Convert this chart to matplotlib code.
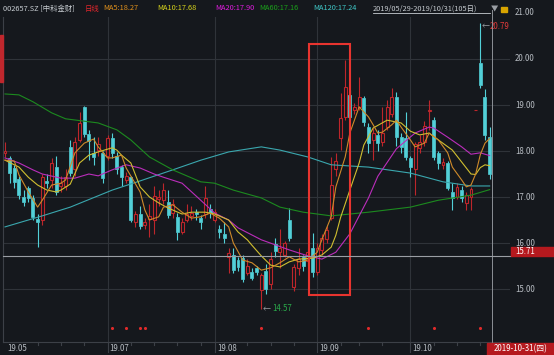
import numpy as np
import matplotlib.pyplot as plt
from matplotlib.lines import Line2D
from matplotlib.patches import Rectangle
from matplotlib.transforms import blended_transform_factory

# 002657.SZ daily bars, 2019/05/29 - 2019/10/31 (105 sessions)
opens = [17.95, 17.85, 17.63, 17.40, 17.00, 17.20, 16.98, 16.52, 16.50, 17.35,
         17.37, 17.65, 17.25, 17.23, 18.08, 17.60, 18.25, 18.95, 18.38, 17.95,
         18.02, 17.96, 17.90, 18.28, 17.90, 17.65, 17.38, 17.43, 16.45, 16.63,
         16.40, 16.52, 16.50, 16.95, 16.93, 16.90, 16.65, 16.57, 16.25, 16.50,
         16.58, 16.67, 16.55, 16.62, 16.75, 16.50, 16.30, 16.20, 15.70, 15.75,
         15.62, 15.68, 15.35, 15.38, 15.45, 14.98, 15.40, 15.10, 15.97, 15.80,
         15.75, 16.50, 15.04, 15.45, 15.70, 15.60, 15.90, 15.38, 15.85, 16.08,
         16.55, 17.60, 18.28, 18.74, 19.22, 18.90, 18.95, 19.15, 18.52, 18.24,
         18.35, 18.20, 18.52, 18.80, 19.17, 18.30, 18.28, 17.85, 17.60, 18.07,
         18.20, 18.87, 18.67, 17.96, 17.70, 17.74, 17.10, 17.00, 17.15, 16.87,
         17.00, 18.89, 19.91, 19.17, 18.30]
highs = [18.20, 17.90, 17.70, 17.45, 17.15, 17.25, 17.05, 16.62, 17.50, 17.50,
         17.85, 17.90, 17.45, 17.60, 18.25, 18.30, 18.85, 18.97, 18.45, 18.30,
         18.30, 18.00, 18.35, 18.40, 17.98, 17.70, 17.55, 17.45, 16.70, 16.80,
         16.55, 16.85, 17.25, 17.15, 17.30, 17.15, 16.95, 16.65, 16.55, 16.85,
         16.80, 16.75, 16.60, 17.25, 16.85, 16.75, 16.40, 16.45, 15.90, 15.90,
         15.70, 15.75, 15.65, 15.45, 15.50, 15.35, 15.55, 15.80, 16.10, 16.30,
         16.05, 16.76, 15.55, 15.90, 15.75, 15.90, 16.22, 16.00, 16.20, 16.38,
         17.87, 17.95, 19.26, 19.98, 19.33, 19.05, 19.61, 19.20, 18.60, 18.50,
         18.45, 18.95, 19.10, 19.37, 19.28, 18.40, 18.85, 17.90, 18.20, 18.35,
         18.65, 19.10, 18.75, 18.00, 17.85, 17.78, 17.30, 17.30, 17.25, 17.10,
         17.22, 18.89, 20.79, 19.35, 18.52]
lows = [17.88, 17.30, 17.20, 16.95, 16.80, 16.90, 16.50, 15.92, 16.40, 17.20,
        17.20, 17.05, 17.10, 17.15, 17.45, 17.45, 18.20, 18.30, 17.80, 17.70,
        17.90, 17.30, 17.80, 17.85, 17.50, 17.25, 17.30, 16.45, 16.35, 16.30,
        16.30, 16.12, 16.20, 16.80, 16.85, 16.55, 16.55, 16.07, 16.20, 16.45,
        16.50, 16.50, 16.30, 16.55, 16.55, 16.45, 16.10, 16.00, 15.35, 15.35,
        15.40, 15.15, 15.30, 15.20, 15.30, 14.57, 14.90, 15.00, 15.70, 15.45,
        15.70, 16.05, 14.95, 15.30, 15.40, 15.50, 15.27, 15.30, 15.75, 16.00,
        16.50, 17.45, 18.02, 18.67, 18.67, 18.80, 18.90, 18.55, 17.96, 17.80,
        18.00, 18.10, 18.45, 18.75, 18.10, 17.95, 17.80, 17.43, 17.05, 17.95,
        18.10, 18.45, 17.80, 17.60, 17.60, 17.15, 16.72, 16.95, 16.90, 16.72,
        16.72, 18.89, 19.38, 18.25, 17.40]
closes = [18.00, 17.52, 17.33, 17.05, 16.90, 16.98, 16.57, 16.45, 17.43, 17.30,
          17.74, 17.10, 17.30, 17.43, 17.52, 18.20, 18.60, 18.37, 18.22, 17.87,
          18.15, 17.41, 18.28, 17.95, 17.60, 17.43, 17.46, 16.50, 16.63, 16.37,
          16.46, 16.58, 17.02, 17.00, 17.15, 16.60, 16.85, 16.23, 16.45, 16.62,
          16.65, 16.62, 16.45, 16.97, 16.65, 16.68, 16.23, 16.10, 15.78, 15.41,
          15.48, 15.22, 15.50, 15.25, 15.38, 15.30, 15.00, 15.65, 15.82, 15.90,
          16.00, 16.11, 15.47, 15.65, 15.50, 15.80, 15.37, 15.90, 16.10, 16.28,
          17.26, 17.78, 18.72, 19.39, 18.74, 18.95, 19.17, 18.63, 18.17, 18.39,
          18.17, 18.40, 18.96, 19.17, 18.30, 18.09, 17.87, 17.65, 18.15, 18.20,
          18.55, 18.90, 17.87, 17.74, 17.76, 17.20, 16.98, 17.22, 16.98, 17.04,
          17.17, 18.89, 19.43, 18.35, 17.51]

# moving averages (session index, price)
ma5_idx = [0, 2, 3, 5, 7, 8, 10, 12, 13, 15, 17, 19, 20, 22, 23, 25, 26, 29, 30, 31,
           33, 34, 36, 38, 40, 42, 44, 46, 48, 49, 51, 53, 55, 57, 59, 61, 63, 65, 67, 68,
           70, 71, 73, 74, 76, 78, 79, 80, 81, 83, 84, 85, 87, 88, 90, 91, 93, 95, 96, 98,
           99, 100, 101, 102, 103, 104]
ma5_val = [17.80, 17.78, 17.48, 17.11, 16.78, 16.93, 17.26, 17.30, 17.37, 17.96,
           18.17, 18.26, 18.09, 17.85, 17.85, 17.91, 17.63, 17.11, 16.72, 16.50,
           16.57, 16.78, 16.83, 16.67, 16.54, 16.57, 16.65, 16.54, 16.35, 16.00,
           15.63, 15.57, 15.41, 15.46, 15.57, 15.70, 15.59, 15.63, 15.80, 16.07,
           16.57, 17.22, 17.87, 18.39, 18.96, 18.74, 18.57, 18.39, 18.41, 18.57,
           18.67, 18.52, 18.24, 18.09, 18.17, 18.39, 18.24, 17.96, 17.65, 17.37,
           17.22, 17.26, 17.50, 17.92, 18.17, 18.27]
ma10_idx = [0, 3, 5, 7, 9, 11, 12, 14, 16, 18, 20, 23, 24, 25, 27, 29, 31, 33, 35, 38,
            40, 43, 45, 48, 50, 52, 53, 55, 57, 59, 61, 63, 66, 68, 70, 71, 72, 74, 76, 77,
            79, 82, 85, 87, 89, 91, 93, 96, 98, 100, 101, 102, 103, 104]
ma10_val = [17.80, 17.65, 17.43, 17.26, 17.15, 17.11, 17.15, 17.28, 17.74, 17.91,
            17.98, 18.07, 18.02, 17.91, 17.74, 17.22, 17.00, 16.87, 16.76, 16.63,
            16.67, 16.67, 16.63, 16.50, 16.24, 16.07, 15.95, 15.72, 15.52, 15.48,
            15.59, 15.65, 15.67, 15.74, 15.91, 16.17, 16.55, 17.15, 17.74, 18.13,
            18.50, 18.67, 18.61, 18.43, 18.35, 18.39, 18.24, 18.02, 17.76, 17.50,
            17.49, 17.64, 17.70, 17.68]
ma20_idx = [0, 3, 6, 8, 12, 15, 18, 20, 23, 26, 29, 32, 34, 38, 42, 45, 48, 50, 55, 58,
            61, 65, 68, 71, 74, 78, 80, 84, 88, 91, 92, 95, 98, 100, 102, 104]
ma20_val = [17.85, 17.74, 17.59, 17.50, 17.41, 17.41, 17.50, 17.46, 17.59, 17.70,
            17.63, 17.50, 17.43, 17.30, 16.93, 16.65, 16.50, 16.33, 16.07, 15.96,
            15.85, 15.72, 15.65, 15.80, 16.20, 16.98, 17.45, 18.05, 18.39, 18.52,
            18.50, 18.30, 18.09, 17.93, 17.96, 17.90]
ma60_idx = [0, 3, 6, 10, 13, 20, 24, 27, 31, 36, 42, 45, 49, 55, 59, 64, 70, 78, 87, 93,
            100, 104]
ma60_val = [19.24, 19.22, 19.07, 18.83, 18.70, 18.61, 18.46, 18.24, 17.87, 17.59,
            17.33, 17.30, 17.15, 16.98, 16.78, 16.67, 16.59, 16.67, 16.78, 16.93,
            17.04, 17.16]
ma120_idx = [0, 8, 14, 23, 29, 36, 42, 48, 55, 59, 65, 70, 78, 87, 94, 100, 104]
ma120_val = [16.35, 16.59, 16.78, 17.15, 17.35, 17.59, 17.80, 17.98, 18.09, 18.02,
             17.87, 17.70, 17.65, 17.52, 17.33, 17.24, 17.24]

month_idx = [0, 22, 45, 67, 87]
month_labels = ["19.05", "19.07", "19.08", "19.09", "19.10"]
week_idx = [7, 12, 17, 27, 32, 37, 42, 47, 52, 57, 62, 72, 76, 81, 92, 97, 102]
price_ticks = [15, 16, 17, 18, 19, 20, 21]
signal_idx = [23, 26, 29, 30, 55, 78, 92, 102]
high_idx, high_price = 102, 20.79
low_idx, low_price = 55, 14.57
cursor_idx, cursor_price = 104, 15.71
box_first, box_last = 65, 74
box_low, box_high = 14.87, 20.33

BG = "#15181d"
GRID = "#2f3339"
UP = "#bd262b"
DOWN = "#52d0d8"
TEXT = "#b9bec4"
W, H = 554, 355
HEAD = 5.3   # header font size
AXF = 5.7    # axis label font size


def fx(x):
    return x / W


def fy(y):
    return 1 - y / H


def main() -> None:
    plt.rcParams["font.family"] = ["Noto Sans CJK SC", "DejaVu Sans"]
    fig = plt.figure(figsize=(W / 100, H / 100), dpi=100, facecolor=BG)
    ax = fig.add_axes([fx(3), fy(342), (510 - 3) / W, (342 - 17) / H])
    ax.set_facecolor(BG)
    ax.set_xlim(-0.43, 108.37)
    ax.set_ylim(13.848, 20.913)
    ax.set_xticks([])
    ax.set_yticks([])
    for side in ("top", "right"):
        ax.spines[side].set_visible(False)
    for side in ("left", "bottom"):
        ax.spines[side].set_color("#3c4047")
        ax.spines[side].set_linewidth(0.8)

    ytrans = blended_transform_factory(ax.transAxes, ax.transData)
    xtrans = blended_transform_factory(ax.transData, ax.transAxes)

    # grid
    for p in price_ticks:
        if p < 20.9:
            ax.axhline(p, color=GRID, lw=0.8, zorder=0)
        ax.text(1.0099, p, f"{p:.2f}", transform=ytrans, color=TEXT,
                fontsize=AXF, va="center", ha="left", clip_on=False)
    for i in month_idx[1:]:
        ax.axvline(i, color=GRID, lw=0.8, zorder=0)

    # candles
    x = np.arange(len(closes))
    o, h, l, c = (np.array(v) for v in (opens, highs, lows, closes))
    up = c >= o
    colors = np.where(up, UP, DOWN)
    top = np.maximum(o, c)
    bot = np.minimum(o, c)
    ax.vlines(x, top, h, colors=colors, lw=0.8, zorder=2)
    ax.vlines(x, l, bot, colors=colors, lw=0.8, zorder=2)
    ax.bar(x[up], (c - o)[up], bottom=o[up], width=0.62, facecolor=BG,
           edgecolor=UP, linewidth=0.8, zorder=2)
    ax.bar(x[~up], (o - c)[~up], bottom=c[~up], width=0.64, facecolor=DOWN,
           edgecolor=DOWN, linewidth=0.5, zorder=2)

    # moving averages
    ax.plot(ma120_idx, ma120_val, color="#3aa7ae", lw=0.8, zorder=3)
    ax.plot(ma60_idx, ma60_val, color="#1c8a1f", lw=0.8, zorder=3)
    ax.plot(ma20_idx, ma20_val, color="#bb2dbb", lw=0.8, zorder=3)
    ax.plot(ma10_idx, ma10_val, color="#d0bf30", lw=0.8, zorder=3)
    ax.plot(ma5_idx, ma5_val, color="#cf8a2a", lw=0.8, zorder=3)

    # highlight box
    ax.add_patch(Rectangle((box_first + 0.2, box_low), box_last - box_first - 0.2,
                           box_high - box_low, fill=False, edgecolor="#e8342f",
                           lw=1.5, zorder=4))

    # signal dots
    ax.scatter(signal_idx, [0.043] * len(signal_idx), transform=xtrans, s=5,
               color="#e02a2a", linewidths=0, zorder=3)

    # extreme markers
    ax.text(high_idx + 0.3, high_price - 0.08, "←", color="#9a9ea4",
            fontsize=AXF, va="center", ha="left", zorder=5)
    ax.text(high_idx + 1.9, high_price - 0.08, "20.79", color="#e23a3a",
            fontsize=AXF, va="center", ha="left", zorder=5, clip_on=False)
    ax.text(low_idx + 0.3, low_price, "←", color="#9a9ea4", fontsize=AXF,
            va="center", ha="left", zorder=5)
    ax.text(low_idx + 2.3, low_price, "14.57", color="#2aa84a", fontsize=AXF,
            va="center", ha="left", zorder=5)

    # cursor
    ax.axvline(cursor_idx + 0.4, ymin=0, ymax=1.0215, color="#8c9096", lw=0.7,
               clip_on=False, zorder=5)
    ax.axhline(cursor_price, xmin=0, xmax=1.002, color="#9a9ea4", lw=0.8,
               clip_on=False, zorder=5)
    ax.add_patch(Rectangle((1.002, cursor_price), 0.09, 0.2, transform=ytrans,
                           color="#b5191e", clip_on=False, zorder=6))
    ax.text(1.0099, cursor_price + 0.1, f"{cursor_price:.2f}", transform=ytrans,
            color="white", fontsize=AXF, va="center", ha="left", clip_on=False,
            zorder=7)

    # date axis
    for i, lab in zip(month_idx, month_labels):
        ax.text(i + 0.45, -0.02, lab, transform=xtrans, color=TEXT, fontsize=AXF,
                va="center", ha="left", clip_on=False)
        if i > 0:
            ax.plot([i, i], [0, -0.032], transform=xtrans, color="#3c4047",
                    lw=0.8, clip_on=False)
    for i in week_idx:
        ax.plot([i, i], [0, -0.008], transform=xtrans, color="#3c4047",
                lw=0.8, clip_on=False)
    fig.add_artist(Rectangle((fx(487), fy(355)), fx(67), 12.5 / H,
                             transform=fig.transFigure, color="#b5191e"))
    fig.text(fx(520.5), fy(349), "2019-10-31(四)", color="white", fontsize=AXF,
             ha="center", va="center")

    # header
    yh = fy(8.5)
    fig.text(fx(3), yh, "002657.SZ [中科金财]", color="#c8cdd2", fontsize=HEAD,
             va="center")
    fig.text(fx(85), yh, "日线", color="#e0262c", fontsize=HEAD, va="center")
    fig.text(fx(103), yh, "MA5:18.27", color="#e0901c", fontsize=HEAD, va="center")
    fig.text(fx(157), yh, "MA10:17.68", color="#d8d41c", fontsize=HEAD, va="center")
    fig.text(fx(215), yh, "MA20:17.90", color="#e01ce0", fontsize=HEAD, va="center")
    fig.text(fx(259), yh, "MA60:17.16", color="#1aa01a", fontsize=HEAD, va="center")
    fig.text(fx(313), yh, "MA120:17.24", color="#40c8c8", fontsize=HEAD, va="center")
    fig.text(fx(373), yh, "2019/05/29-2019/10/31(105日)", color="#c8cdd2",
             fontsize=HEAD, va="center")
    fig.add_artist(Line2D([fx(373), fx(490)], [fy(13)] * 2,
                          transform=fig.transFigure, color="#c8cdd2", lw=0.6))
    fig.text(fx(491), yh, "▼", color="#9a9ea4", fontsize=HEAD, va="center")
    fig.add_artist(Rectangle((fx(501), fy(12)), fx(6), 5 / H,
                             transform=fig.transFigure, color="#d8a400"))
    fig.add_artist(Rectangle((fx(0), fy(82)), fx(3), 47 / H,
                             transform=fig.transFigure, color="#c0272d"))

    fig.savefig("out.png", dpi=100, facecolor=BG)


if __name__ == "__main__":
    main()
